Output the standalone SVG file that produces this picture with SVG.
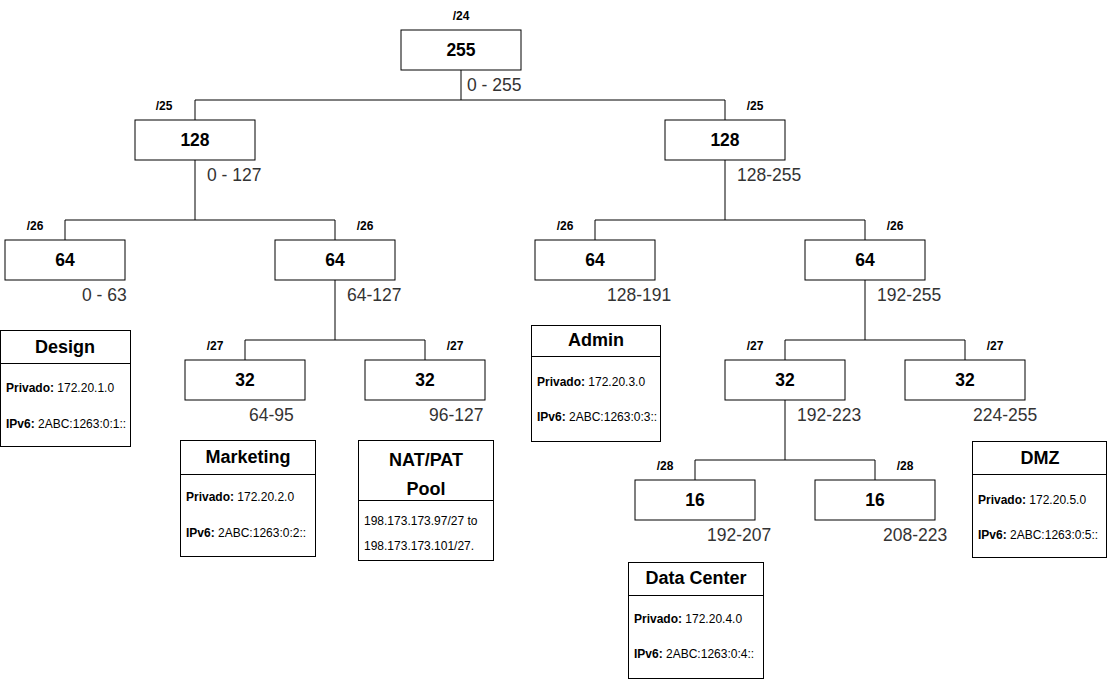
<svg xmlns="http://www.w3.org/2000/svg" width="1117" height="679" viewBox="0 0 1117 679">
<style>
.box{fill:#fff;stroke:#000;stroke-width:1}
.num{font-family:"Liberation Sans",Arial,sans-serif;font-size:17.5px;font-weight:bold;text-anchor:middle;fill:#000}
.mask{font-family:"Liberation Sans",Arial,sans-serif;font-size:12px;font-weight:bold;text-anchor:middle;fill:#000}
.rng{font-family:"Liberation Sans",Arial,sans-serif;font-size:17.5px;fill:#333}
.ttl{font-family:"Liberation Sans",Arial,sans-serif;font-size:18px;font-weight:bold;text-anchor:middle;fill:#000}
.inf{font-family:"Liberation Sans",Arial,sans-serif;font-size:12px;fill:#000}
.inf tspan.b{font-weight:bold}
.conn{fill:none;stroke:#000;stroke-width:1}
.card{fill:#fff;stroke:#000;stroke-width:1}
</style>
<rect width="1117" height="679" fill="#fff"/>
<g id="connectors">
<path class="conn" d="M461,70V100M195,120V100H725V120"/>
<path class="conn" d="M195,160V220M65,240V220H335V240"/>
<path class="conn" d="M725,160V220M595,240V220H865V240"/>
<path class="conn" d="M335,280V340M245,360V340H425V360"/>
<path class="conn" d="M865,280V340M785,360V340H965V360"/>
<path class="conn" d="M785,400V460M695,480V460H875V480"/>
</g>
<g id="n255"><rect class="box" x="401" y="30" width="120" height="40"/><text class="num" x="461" y="56">255</text><text class="mask" x="461" y="20">/24</text><text class="rng" x="467" y="91">0 - 255</text></g>
<g id="n128a"><rect class="box" x="135" y="120" width="120" height="40"/><text class="num" x="195" y="146">128</text><text class="mask" x="164" y="110">/25</text><text class="rng" x="207" y="181">0 - 127</text></g>
<g id="n128b"><rect class="box" x="665" y="120" width="120" height="40"/><text class="num" x="725" y="146">128</text><text class="mask" x="755" y="110">/25</text><text class="rng" x="737" y="181">128-255</text></g>
<g id="n64a"><rect class="box" x="5" y="240" width="120" height="40"/><text class="num" x="65" y="266">64</text><text class="mask" x="35" y="230">/26</text><text class="rng" x="82" y="301">0 - 63</text></g>
<g id="n64b"><rect class="box" x="275" y="240" width="120" height="40"/><text class="num" x="335" y="266">64</text><text class="mask" x="365" y="230">/26</text><text class="rng" x="347" y="301">64-127</text></g>
<g id="n64c"><rect class="box" x="535" y="240" width="120" height="40"/><text class="num" x="595" y="266">64</text><text class="mask" x="565" y="230">/26</text><text class="rng" x="607" y="301">128-191</text></g>
<g id="n64d"><rect class="box" x="805" y="240" width="120" height="40"/><text class="num" x="865" y="266">64</text><text class="mask" x="895" y="230">/26</text><text class="rng" x="877" y="301">192-255</text></g>
<g id="n32a"><rect class="box" x="185" y="360" width="120" height="40"/><text class="num" x="245" y="386">32</text><text class="mask" x="215" y="350">/27</text><text class="rng" x="249" y="421">64-95</text></g>
<g id="n32b"><rect class="box" x="365" y="360" width="120" height="40"/><text class="num" x="425" y="386">32</text><text class="mask" x="455" y="350">/27</text><text class="rng" x="429" y="421">96-127</text></g>
<g id="n32c"><rect class="box" x="725" y="360" width="120" height="40"/><text class="num" x="785" y="386">32</text><text class="mask" x="755" y="350">/27</text><text class="rng" x="797" y="421">192-223</text></g>
<g id="n32d"><rect class="box" x="905" y="360" width="120" height="40"/><text class="num" x="965" y="386">32</text><text class="mask" x="995" y="350">/27</text><text class="rng" x="973" y="421">224-255</text></g>
<g id="n16a"><rect class="box" x="635" y="480" width="120" height="40"/><text class="num" x="695" y="506">16</text><text class="mask" x="665" y="470">/28</text><text class="rng" x="707" y="541">192-207</text></g>
<g id="n16b"><rect class="box" x="815" y="480" width="120" height="40"/><text class="num" x="875" y="506">16</text><text class="mask" x="905" y="470">/28</text><text class="rng" x="883" y="541">208-223</text></g>
<g id="design"><rect class="card" x="0.5" y="330.5" width="130" height="116"/><path class="conn" d="M0.5,363.5H130.5"/><text class="ttl" x="65" y="353">Design</text><text class="inf" x="6" y="392"><tspan class="b">Privado:</tspan> 172.20.1.0</text><text class="inf" x="6" y="428"><tspan class="b">IPv6:</tspan> 2ABC:1263:0:1::</text></g>
<g id="marketing"><rect class="card" x="180.5" y="440.5" width="135" height="116"/><path class="conn" d="M180.5,474.5H315.5"/><text class="ttl" x="248" y="463">Marketing</text><text class="inf" x="186" y="501"><tspan class="b">Privado:</tspan> 172.20.2.0</text><text class="inf" x="186" y="537"><tspan class="b">IPv6:</tspan> 2ABC:1263:0:2::</text></g>
<g id="nat"><rect class="card" x="358.5" y="440.5" width="135" height="120"/><path class="conn" d="M358.5,500.5H493.5"/><text class="ttl" x="426" y="466">NAT/PAT</text><text class="ttl" x="426" y="495">Pool</text><text class="inf" x="364" y="525">198.173.173.97/27 to</text><text class="inf" x="364" y="550">198.173.173.101/27.</text></g>
<g id="admin"><rect class="card" x="531.5" y="325.5" width="129" height="116"/><path class="conn" d="M531.5,356.5H660.5"/><text class="ttl" x="596" y="346">Admin</text><text class="inf" x="537" y="386"><tspan class="b">Privado:</tspan> 172.20.3.0</text><text class="inf" x="537" y="421"><tspan class="b">IPv6:</tspan> 2ABC:1263:0:3::</text></g>
<g id="datacenter"><rect class="card" x="628.5" y="562.5" width="135" height="116"/><path class="conn" d="M628.5,595.5H763.5"/><text class="ttl" x="696" y="584">Data Center</text><text class="inf" x="634" y="623"><tspan class="b">Privado:</tspan> 172.20.4.0</text><text class="inf" x="634" y="658"><tspan class="b">IPv6:</tspan> 2ABC:1263:0:4::</text></g>
<g id="dmz"><rect class="card" x="972.5" y="441.5" width="134" height="116"/><path class="conn" d="M972.5,474.5H1106.5"/><text class="ttl" x="1040" y="464">DMZ</text><text class="inf" x="978" y="504"><tspan class="b">Privado:</tspan> 172.20.5.0</text><text class="inf" x="978" y="539"><tspan class="b">IPv6:</tspan> 2ABC:1263:0:5::</text></g>
</svg>
